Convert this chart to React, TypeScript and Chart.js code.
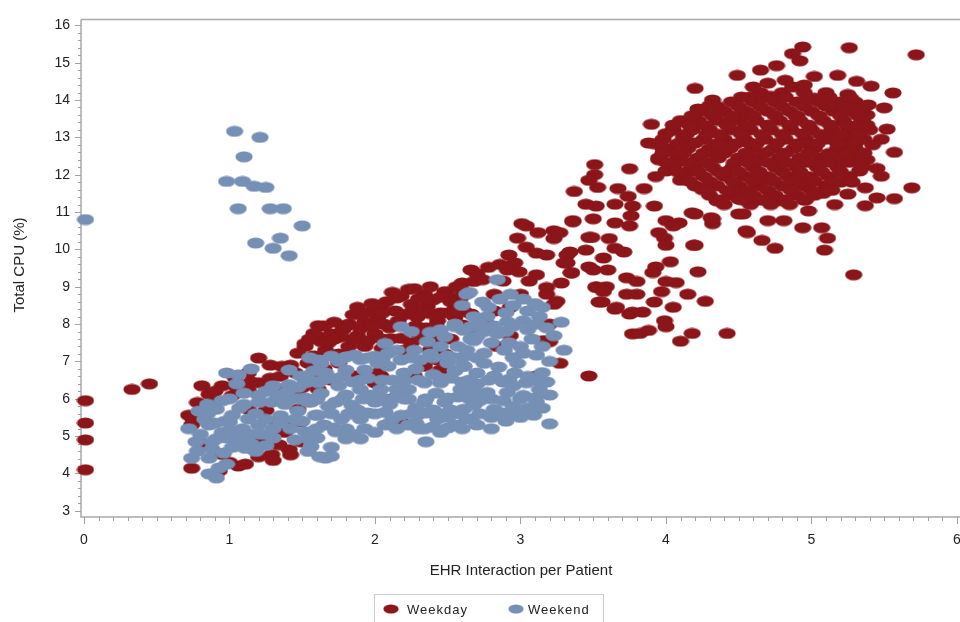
import React, { useEffect, useRef } from 'react';
import { Chart, registerables } from 'chart.js';

Chart.register(...registerables);

const xTicks = [0, 1, 2, 3, 4, 5, 6];
const yTicks = [3, 4, 5, 6, 7, 8, 9, 10, 11, 12, 13, 14, 15, 16];
const seriesNames = ['Weekday', 'Weekend'];
const xTitle = 'EHR Interaction per Patient';
const yTitle = 'Total CPU (%)';
const RED = '#8B1519';
const BLUE = '#768FB5';

const weekdayPoints: number[][] = [
  [0.01, 4.1], [0.01, 4.9], [0.01, 5.35], [0.01, 5.95], [0.33, 6.25], [0.45, 6.4],
  // low cluster
  [1.2, 7.09], [1.52, 7.4], [1.61, 7.66], [1.36, 6.87], [1.13, 6.69], [1.04, 6.56], [0.81, 6.35], [0.95, 6.35],
  [0.86, 6.12], [1.02, 6.09], [1.13, 6.22], [1.2, 6.43], [1.36, 6.25], [1.47, 6.09], [1.59, 5.99], [0.72, 5.56],
  [0.74, 5.3], [1.13, 5.72], [1.25, 5.69], [1.32, 5.38], [1.43, 5.38], [1.06, 5.12], [1.22, 4.93], [1.34, 4.77],
  [1.49, 4.85], [1.29, 4.51], [0.74, 4.14], [1.06, 4.2], [1.11, 4.25], [0.95, 4.51], [0.93, 4.07], [1.41, 4.64],
  [0.9, 5.9], [1.28, 6.55], [1.45, 6.7], [1.55, 6.95], [0.8, 4.8], [1.38, 5.1], [1.0, 4.3],
  [1.42, 6.9], [1.35, 6.6], [1.28, 6.9], [1.15, 6.45], [1.05, 6.3], [0.9, 6.2], [0.78, 5.9], [0.75, 5.45],
  [1.3, 4.35], [1.2, 4.45], [1.42, 4.5], [1.58, 6.5], [1.5, 6.3],
  // middle band
  [2.23, 8.93], [2.34, 8.8], [2.48, 8.87], [2.66, 9.45], [2.68, 9.14], [1.88, 8.45], [2.04, 8.48], [2.14, 8.35],
  [2.25, 8.53], [2.36, 8.48], [2.55, 8.4], [1.61, 7.96], [1.7, 7.74], [1.82, 8.0], [1.93, 8.06], [2.02, 8.19],
  [2.16, 8.09], [2.29, 8.19], [2.43, 8.09], [2.55, 8.19], [1.52, 7.48], [1.63, 7.53], [1.77, 7.66], [1.88, 7.69],
  [2.0, 7.74], [2.11, 7.61], [1.93, 7.4], [1.82, 7.4], [2.38, 7.3], [2.43, 7.04], [2.45, 6.77], [2.61, 8.35],
  [1.47, 7.22], [1.54, 6.96], [1.75, 6.96], [2.02, 6.69], [2.04, 6.61], [2.11, 5.99], [2.16, 6.09], [1.47, 5.72],
  [1.49, 5.38], [1.52, 4.85], [2.18, 5.38], [1.61, 6.25], [1.86, 6.61], [2.0, 6.43], [2.27, 6.61], [2.34, 6.87],
  [2.5, 8.75], [2.6, 9.1], [2.7, 9.35], [2.86, 9.6], [2.78, 9.52], [2.3, 7.7], [2.2, 7.3], [2.1, 7.9],
  [1.58, 7.75], [1.66, 7.3], [1.72, 8.05], [1.78, 7.85], [1.85, 8.25], [1.9, 7.88], [1.97, 8.32], [2.06, 8.0],
  [2.08, 8.6], [2.18, 8.75], [2.2, 8.25], [2.27, 8.95], [2.32, 8.38], [2.4, 8.65], [2.45, 8.3], [2.52, 8.6],
  [2.6, 8.75], [1.68, 7.5], [1.75, 7.2], [1.95, 7.55], [2.05, 7.35], [2.25, 7.5], [2.35, 7.9], [2.4, 7.6],
  [2.48, 7.2], [1.58, 7.15], [1.65, 6.8], [1.7, 6.5], [2.12, 8.85], [1.98, 8.55], [2.38, 9.0], [2.56, 9.0],
  [2.15, 8.7], [2.3, 8.68], [2.45, 8.72], [2.58, 8.62], [1.9, 8.3], [2.05, 8.3], [2.25, 8.32], [2.38, 8.28],
  [2.5, 8.3], [1.65, 7.95], [1.8, 7.95], [1.98, 7.95], [2.12, 7.95], [2.28, 7.95], [2.42, 7.95], [2.6, 7.98],
  [1.55, 7.6], [1.72, 7.6], [1.85, 7.58], [2.05, 7.6], [2.18, 7.62], [2.35, 7.58], [2.52, 7.6],
  // around x = 3
  [3.04, 10.63], [3.23, 10.5], [3.23, 10.29], [3.36, 10.77], [3.47, 10.32], [3.04, 10.06], [3.11, 9.9], [3.18, 9.85],
  [2.92, 9.85], [2.96, 9.64], [3.32, 9.85], [3.32, 9.64], [3.35, 9.37], [3.47, 9.53], [2.74, 9.19], [2.91, 9.45],
  [2.99, 9.4], [3.11, 9.32], [3.18, 8.98], [3.18, 8.8], [2.59, 8.93], [2.82, 8.8], [3.0, 8.8], [3.23, 8.53],
  [3.52, 8.98], [3.59, 9.0], [3.54, 8.59], [3.65, 8.4], [3.75, 8.27], [3.77, 7.74], [2.57, 8.35], [2.66, 8.27],
  [2.82, 8.35], [2.93, 8.45], [3.2, 8.0], [3.16, 7.56], [3.2, 7.53], [3.27, 6.95], [3.47, 6.61], [3.11, 6.61],
  [2.84, 7.4], [2.77, 8.0], [2.93, 7.69], [2.66, 7.88], [3.01, 10.69], [3.25, 8.61], [2.88, 9.15], [3.06, 9.15],
  [3.28, 9.1], [2.98, 10.3], [3.12, 10.45],
  // scattered x 3.3 - 4.5
  [3.88, 12.85], [3.51, 12.27], [3.51, 12.0], [3.75, 12.16], [3.37, 11.55], [3.45, 11.21], [3.52, 11.16], [3.67, 11.63],
  [3.74, 11.42], [3.85, 11.63], [3.65, 11.21], [3.77, 11.16], [3.76, 10.9], [3.92, 11.16], [3.36, 10.74], [3.5, 10.82],
  [3.65, 10.71], [3.75, 10.63], [3.27, 10.45], [4.0, 10.77], [4.05, 10.63], [4.2, 10.95], [4.31, 10.85], [4.32, 10.69],
  [4.5, 10.95], [4.56, 10.45], [3.95, 10.45], [3.99, 10.3], [4.0, 10.11], [3.49, 10.32], [3.61, 10.29], [3.65, 10.03],
  [3.71, 9.93], [3.34, 9.93], [3.45, 9.98], [3.57, 9.77], [3.3, 9.64], [4.19, 10.11], [4.03, 9.67], [3.93, 9.53],
  [3.5, 9.45], [3.35, 9.38], [3.6, 9.45], [3.73, 9.24], [3.8, 9.14], [3.91, 9.38], [4.0, 9.14], [4.07, 9.11],
  [4.22, 9.4], [3.52, 9.0], [3.57, 8.87], [3.73, 8.8], [3.8, 8.8], [3.97, 8.87], [4.15, 8.8], [4.27, 8.61],
  [3.56, 8.59], [3.66, 8.45], [3.77, 8.32], [3.84, 8.32], [3.92, 8.59], [4.05, 8.45], [3.99, 8.09], [4.0, 7.93],
  [3.82, 7.75], [3.88, 7.83], [4.1, 7.54], [4.18, 7.75], [4.42, 7.75], [3.9, 13.35], [3.95, 12.4], [4.0, 12.1],
  [3.93, 11.95], [3.47, 11.85], [3.53, 11.66],
  // upper cluster, outer points
  [4.94, 15.42], [5.26, 15.4], [4.87, 15.24], [4.92, 15.05], [4.49, 14.66], [4.65, 14.8], [4.76, 14.92], [4.2, 14.31],
  [4.32, 14.0], [4.22, 13.76], [4.39, 13.7], [4.82, 14.53], [5.02, 14.63], [5.18, 14.66], [5.31, 14.5], [5.41, 14.37],
  [5.56, 14.19], [5.39, 13.87], [5.5, 13.79], [5.52, 13.22], [5.57, 12.6], [5.48, 12.95], [5.38, 12.4], [5.45, 12.17],
  [5.48, 11.96], [5.37, 11.65], [5.45, 11.38], [5.57, 11.36], [5.37, 11.17], [5.69, 11.65], [5.72, 15.21], [4.18, 10.98],
  [4.32, 10.82], [4.53, 10.95], [4.55, 10.5], [4.66, 10.24], [4.75, 10.03], [4.7, 10.77], [4.81, 10.77], [4.94, 10.58],
  [5.07, 10.58], [5.11, 10.3], [5.09, 9.98], [5.16, 11.2], [4.98, 11.03], [5.25, 11.48], [4.2, 10.11], [4.09, 10.71],
  [5.29, 9.32],
  // upper cluster, dense core
  [4.65, 14.2], [4.8, 14.2], [4.95, 14.2], [5.1, 14.2],
  [4.45, 13.95], [4.6, 13.95], [4.75, 13.95], [4.9, 13.95], [5.05, 13.95], [5.2, 13.95], [5.3, 13.95],
  [4.25, 13.7], [4.4, 13.7], [4.55, 13.7], [4.7, 13.7], [4.85, 13.7], [5.0, 13.7], [5.15, 13.7], [5.28, 13.7],
  [4.1, 13.45], [4.22, 13.45], [4.35, 13.45], [4.5, 13.45], [4.62, 13.45], [4.78, 13.45], [4.92, 13.45], [5.08, 13.45], [5.22, 13.45], [5.35, 13.45],
  [4.05, 13.2], [4.18, 13.2], [4.3, 13.2], [4.45, 13.2], [4.58, 13.2], [4.72, 13.2], [4.86, 13.2], [5.0, 13.2], [5.14, 13.2], [5.26, 13.2], [5.4, 13.2],
  [3.98, 12.95], [4.12, 12.95], [4.26, 12.95], [4.4, 12.95], [4.54, 12.95], [4.68, 12.95], [4.82, 12.95], [4.96, 12.95], [5.1, 12.95], [5.24, 12.95], [5.36, 12.95],
  [4.02, 12.7], [4.15, 12.7], [4.3, 12.7], [4.44, 12.7], [4.6, 12.7], [4.74, 12.7], [4.88, 12.7], [5.02, 12.7], [5.18, 12.7], [5.3, 12.7],
  [3.95, 12.45], [4.08, 12.45], [4.22, 12.45], [4.36, 12.45], [4.5, 12.45], [4.64, 12.45], [4.78, 12.45], [4.92, 12.45], [5.06, 12.45], [5.2, 12.45], [5.32, 12.45],
  [4.05, 12.2], [4.18, 12.2], [4.32, 12.2], [4.46, 12.2], [4.6, 12.2], [4.75, 12.2], [4.9, 12.2], [5.04, 12.2], [5.18, 12.2],
  [4.12, 11.95], [4.26, 11.95], [4.4, 11.95], [4.55, 11.95], [4.7, 11.95], [4.84, 11.95], [4.98, 11.95], [5.12, 11.95], [5.26, 11.95],
  [4.2, 11.7], [4.35, 11.7], [4.5, 11.7], [4.64, 11.7], [4.8, 11.7], [4.95, 11.7], [5.1, 11.7],
  [4.3, 11.45], [4.45, 11.45], [4.6, 11.45], [4.75, 11.45], [4.9, 11.45], [5.02, 11.45],
  [4.4, 11.2], [4.58, 11.2], [4.72, 11.2], [4.85, 11.2],
  [4.12, 13.05], [4.27, 13.32], [4.38, 12.82], [4.52, 13.58], [4.66, 13.08], [4.8, 13.82], [4.94, 13.1], [5.05, 13.58],
  [5.17, 13.05], [5.3, 13.3], [4.08, 12.55], [4.2, 12.85], [4.34, 12.57], [4.47, 12.32], [4.57, 12.85], [4.69, 12.6],
  [4.83, 12.32], [4.97, 12.82], [5.12, 12.57], [5.25, 12.82], [4.15, 12.08], [4.3, 11.82], [4.43, 12.1], [4.52, 11.58],
  [4.67, 11.85], [4.8, 12.08], [4.93, 11.82], [5.07, 12.08], [5.2, 11.8], [5.33, 12.1], [4.35, 11.3], [4.5, 11.35],
  [4.65, 11.32], [4.8, 11.3], [4.95, 11.32], [5.08, 11.5], [4.3, 13.85], [4.45, 13.55], [4.58, 14.08], [4.72, 14.1],
  [4.87, 14.35], [5.02, 14.05], [5.15, 13.83], [5.25, 14.15], [4.95, 14.4], [4.7, 14.45], [4.0, 13.1], [4.06, 12.3],
  [3.98, 12.7], [4.1, 11.85], [4.25, 11.6], [4.6, 14.35], [5.38, 13.6], [5.42, 12.8], [5.35, 12.2], [5.28, 11.8],
  [4.24, 12.32], [4.37, 13.08], [4.62, 12.35], [4.76, 12.84], [4.89, 13.58], [5.13, 13.33], [4.55, 13.3], [4.98, 12.58],
  [4.52, 14.08], [4.67, 14.06], [4.82, 14.08], [4.97, 14.06], [5.12, 14.08], [5.27, 14.05],
  [4.35, 13.83], [4.5, 13.83], [4.65, 13.82], [4.95, 13.83], [5.1, 13.84], [5.22, 13.83], [5.36, 13.82],
  [4.18, 13.58], [4.32, 13.58], [4.46, 13.57], [4.6, 13.58], [4.75, 13.58], [4.9, 13.57], [5.2, 13.58], [5.32, 13.58],
  [4.05, 13.33], [4.16, 13.33], [4.42, 13.33], [4.56, 13.32], [4.7, 13.33], [4.85, 13.33], [4.98, 13.33], [5.24, 13.33], [5.38, 13.33],
  [4.14, 13.08], [4.28, 13.08], [4.52, 13.08], [4.8, 13.08], [5.06, 13.08], [5.2, 13.08], [5.32, 13.08],
  [3.92, 12.83], [4.08, 12.83], [4.35, 12.83], [4.48, 12.83], [4.62, 12.83], [4.9, 12.83], [5.04, 12.83], [5.18, 12.83], [5.3, 12.83],
  [3.98, 12.58], [4.12, 12.58], [4.26, 12.58], [4.4, 12.58], [4.55, 12.58], [4.82, 12.58], [5.24, 12.58], [5.36, 12.58],
  [4.0, 12.33], [4.15, 12.33], [4.28, 12.33], [4.56, 12.33], [4.7, 12.33], [4.97, 12.33], [5.12, 12.33], [5.26, 12.33],
  [4.08, 12.08], [4.22, 12.08], [4.36, 12.08], [4.5, 12.08], [4.64, 12.08], [4.92, 12.08], [5.2, 12.08],
  [4.16, 11.83], [4.46, 11.83], [4.6, 11.83], [4.74, 11.83], [4.88, 11.83], [5.02, 11.83], [5.16, 11.83],
  [4.28, 11.58], [4.42, 11.58], [4.56, 11.58], [4.7, 11.58], [4.86, 11.58], [5.0, 11.58], [5.14, 11.58],
  [4.38, 11.33], [4.52, 11.33], [4.68, 11.33], [4.82, 11.33], [4.96, 11.33],
];

const weekendPoints: number[][] = [
  [0.01, 10.8],
  // upper-left group
  [1.035, 13.16], [1.21, 13.0], [1.1, 12.48], [0.98, 11.82], [1.09, 11.82], [1.17, 11.69], [1.25, 11.66], [1.06, 11.09],
  [1.28, 11.09], [1.37, 11.09], [1.5, 10.63], [1.35, 10.3], [1.18, 10.17], [1.3, 10.03], [1.41, 9.83],
  // low cluster
  [0.98, 6.69], [1.06, 6.64], [1.41, 6.77], [1.41, 6.38], [1.52, 6.43], [1.63, 6.95], [1.2, 6.09], [1.29, 5.91],
  [1.41, 5.99], [1.54, 5.91], [0.79, 5.67], [0.91, 5.72], [1.02, 5.56], [1.13, 5.46], [1.47, 5.67], [1.59, 5.56],
  [0.72, 5.2], [0.86, 5.3], [1.0, 5.38], [1.09, 5.2], [1.2, 5.3], [1.52, 5.12], [0.77, 4.85], [0.91, 4.93],
  [1.04, 4.85], [1.11, 4.67], [1.18, 4.59], [1.56, 4.72], [1.66, 4.41], [0.74, 4.41], [0.86, 4.41], [0.98, 4.25],
  [0.91, 3.88], [0.86, 3.99], [1.49, 6.61],
  [1.47, 6.0], [1.5, 5.4], [1.42, 5.2], [1.35, 5.55], [1.3, 5.2], [1.25, 5.45], [1.15, 5.05], [1.05, 5.0],
  [0.95, 5.1], [0.83, 5.45], [0.8, 5.05], [0.88, 4.65], [0.96, 4.55], [1.02, 4.7], [1.1, 4.9], [1.25, 4.75],
  [1.3, 4.95], [1.45, 4.9], [0.93, 4.15], [1.05, 6.4], [1.15, 6.8], [1.25, 6.2], [1.33, 6.1], [1.38, 5.85],
  [1.1, 5.85], [0.95, 5.95], [0.85, 5.85], [1.6, 4.95], [1.7, 4.7], [1.62, 4.45],
  [0.85, 5.6], [0.97, 5.4], [1.07, 5.75], [1.18, 5.6], [1.22, 5.05], [1.35, 5.35], [1.45, 5.45], [1.0, 5.15],
  [0.9, 5.35], [1.2, 5.9], [1.3, 6.35], [1.4, 6.2], [1.1, 6.15], [1.0, 6.0], [0.88, 4.85], [0.78, 4.6],
  [1.15, 4.8], [0.98, 4.95],
  // middle band
  [2.63, 8.8], [2.18, 7.93], [2.07, 7.48], [1.61, 7.04], [1.7, 7.14], [1.86, 7.17], [2.0, 7.14], [2.09, 7.22],
  [2.18, 7.04], [2.27, 7.3], [2.36, 7.53], [2.48, 7.66], [2.55, 7.93], [2.66, 7.93], [2.68, 7.56], [2.57, 7.4],
  [1.52, 6.61], [1.66, 6.69], [1.8, 6.77], [1.93, 6.77], [2.09, 6.87], [2.2, 6.69], [2.31, 7.04], [2.5, 6.96],
  [2.61, 6.87], [1.47, 6.3], [1.61, 6.43], [1.75, 6.35], [1.9, 6.25], [2.04, 6.25], [2.23, 6.25], [2.34, 6.43],
  [2.45, 6.43], [2.59, 6.25], [2.68, 6.17], [1.56, 5.91], [1.73, 5.91], [1.84, 5.83], [2.0, 5.91], [2.23, 5.99],
  [2.34, 5.91], [2.48, 5.91], [2.61, 5.72], [1.61, 5.56], [1.77, 5.46], [1.9, 5.46], [2.07, 5.64], [2.18, 5.56],
  [2.29, 5.56], [2.43, 5.46], [2.55, 5.3], [2.66, 5.46], [1.73, 5.12], [1.93, 5.2], [2.07, 5.3], [2.23, 5.3],
  [2.34, 5.2], [1.54, 4.93], [1.8, 4.93], [1.9, 4.93], [2.35, 4.85], [1.7, 4.46], [1.54, 4.59],
  [1.58, 6.75], [1.7, 6.55], [1.78, 6.6], [1.85, 6.45], [1.95, 6.55], [2.02, 6.95], [2.12, 6.5], [2.15, 6.25],
  [2.28, 6.8], [2.4, 6.65], [2.42, 6.15], [2.52, 6.55], [2.55, 6.75], [2.6, 6.45], [2.7, 6.4], [2.75, 6.95],
  [1.63, 6.15], [1.68, 5.8], [1.8, 6.1], [1.88, 5.7], [1.97, 6.1], [2.1, 5.85], [2.15, 6.05], [2.28, 5.75],
  [2.4, 5.7], [2.52, 5.7], [2.57, 6.05], [1.65, 5.3], [1.8, 5.2], [1.85, 5.05], [2.0, 5.1], [2.12, 5.45],
  [2.28, 5.35], [2.4, 5.25], [2.5, 5.5], [2.45, 5.1], [1.75, 7.0], [1.9, 7.05], [2.05, 7.05], [2.15, 7.3],
  [2.25, 7.1], [2.38, 7.2], [2.45, 7.4], [2.5, 7.15], [2.6, 7.1], [2.66, 7.6], [2.45, 7.85], [2.55, 8.0],
  [2.25, 7.8], [2.38, 7.78], [2.75, 7.8], [2.9, 7.8], [1.55, 7.1], [1.8, 7.12], [1.95, 7.1], [2.4, 7.1],
  [2.55, 7.1], [2.7, 7.1], [2.95, 7.1], [1.55, 6.5], [1.65, 6.52], [1.9, 6.5], [2.05, 6.5], [2.2, 6.48],
  [2.3, 6.5], [2.45, 6.55], [2.65, 6.5], [2.78, 6.5], [2.92, 6.52], [3.1, 6.5], [1.52, 6.02], [1.6, 6.0],
  [1.78, 6.0], [1.92, 6.0], [2.05, 6.02], [2.2, 6.0], [2.35, 6.0], [2.5, 6.02], [2.65, 6.0], [2.8, 6.0],
  [3.0, 6.0], [3.1, 6.02], [1.7, 5.6], [1.82, 5.6], [1.95, 5.62], [2.0, 5.6], [2.25, 5.6], [2.35, 5.62],
  [2.47, 5.6], [2.58, 5.6], [2.72, 5.6], [2.88, 5.62], [3.02, 5.6], [1.6, 5.2], [1.72, 5.22], [2.15, 5.2],
  [2.3, 5.2], [2.5, 5.22], [2.6, 5.2], [2.8, 5.2],
  // around x = 3
  [2.84, 9.19], [2.65, 8.85], [2.74, 8.59], [2.86, 8.67], [2.93, 8.8], [3.02, 8.67], [2.77, 8.2], [2.91, 8.06],
  [3.02, 8.09], [3.13, 8.2], [3.11, 8.0], [3.23, 7.69], [3.3, 7.3], [2.61, 7.83], [2.7, 7.67], [2.84, 7.74],
  [2.63, 7.3], [2.75, 7.22], [2.89, 7.3], [3.02, 7.22], [3.11, 7.17], [2.98, 6.95], [2.61, 6.87], [2.7, 6.69],
  [2.82, 6.61], [2.96, 6.69], [3.04, 6.43], [3.13, 6.25], [2.63, 6.25], [2.77, 6.17], [2.91, 6.17], [3.02, 6.09],
  [3.11, 5.91], [2.68, 5.83], [2.82, 5.72], [2.96, 5.56], [3.09, 5.56], [3.2, 5.33], [2.63, 5.46], [3.28, 8.05],
  [2.85, 6.85], [2.88, 6.45], [2.95, 6.35], [3.05, 6.6], [3.15, 6.7], [3.18, 6.45], [2.72, 5.95], [2.8, 5.5],
  [2.88, 5.95], [2.95, 5.8], [3.05, 5.75], [3.15, 5.75], [3.2, 6.1], [2.7, 5.3], [2.9, 5.4], [3.0, 5.5],
  [2.8, 7.5], [2.92, 7.5], [3.0, 7.4], [3.08, 7.6], [3.15, 7.4], [3.2, 7.0], [2.72, 8.0], [2.82, 7.95],
  [2.95, 7.95], [3.05, 7.85], [3.18, 7.9], [2.9, 8.3], [3.05, 8.35], [3.15, 8.45], [2.78, 8.45], [2.68, 8.2],
  [2.6, 8.5], [2.95, 8.5], [3.1, 8.55],
];

function makeMarker(color: string): HTMLCanvasElement {
  const c = document.createElement('canvas');
  c.width = 18;
  c.height = 12;
  const g = c.getContext('2d')!;
  g.fillStyle = color;
  g.beginPath();
  g.ellipse(9, 6, 8.6, 5.6, 0, 0, Math.PI * 2);
  g.fill();
  return c;
}

const FONT = '"Liberation Sans", Arial, sans-serif';

export default function App() {
  const ref = useRef<HTMLCanvasElement>(null);

  useEffect(() => {
    document.body.style.overflow = 'hidden';
    const redImg = makeMarker(RED);
    const blueImg = makeMarker(BLUE);

    const decor = {
      id: 'decor',
      beforeDatasetsDraw(chart: any) {
        const { ctx, chartArea: a, scales } = chart;
        const x = scales.x;
        const y = scales.y;
        ctx.save();
        ctx.strokeStyle = '#a9a9a9';
        ctx.lineWidth = 1.5;
        ctx.beginPath();
        ctx.moveTo(a.left, a.top);
        ctx.lineTo(a.right, a.top);
        ctx.moveTo(a.left, a.top);
        ctx.lineTo(a.left, a.bottom);
        ctx.lineTo(a.right, a.bottom);
        ctx.stroke();
        ctx.lineWidth = 1;
        ctx.strokeStyle = '#a0a0a0';
        ctx.beginPath();
        for (let i = 0; i <= 65; i++) {
          const px = Math.round(x.getPixelForValue(i / 10)) + 0.5;
          if (px < a.left || px > a.right) continue;
          const len = i % 10 === 0 ? 7 : 4;
          ctx.moveTo(px, a.bottom);
          ctx.lineTo(px, a.bottom + len);
        }
        for (let i = 15; i <= 80; i++) {
          const v = i / 5;
          const py = Math.round(y.getPixelForValue(v)) + 0.5;
          if (py < a.top || py > a.bottom) continue;
          const len = i % 5 === 0 ? 6 : 3;
          ctx.moveTo(a.left, py);
          ctx.lineTo(a.left - len, py);
        }
        ctx.stroke();
        ctx.restore();
      },
      afterDraw(chart: any) {
        const { ctx } = chart;
        ctx.save();
        ctx.fillStyle = '#222';
        ctx.font = `15px ${FONT}`;
        ctx.textAlign = 'center';
        ctx.textBaseline = 'middle';
        ctx.fillText(xTitle, 521, 571);
        ctx.save();
        ctx.translate(20, 265);
        ctx.rotate(-Math.PI / 2);
        ctx.font = `15px ${FONT}`;
        ctx.fillText(yTitle, 0, 0);
        ctx.restore();
        // legend
        ctx.strokeStyle = '#cccccc';
        ctx.lineWidth = 1;
        ctx.strokeRect(374.5, 594.5, 229, 40);
        ctx.drawImage(redImg, 391 - 8, 609 - 5, 16, 10);
        ctx.drawImage(blueImg, 516 - 8, 609 - 5, 16, 10);
        ctx.font = `13px ${FONT}`;
        try { (ctx as any).letterSpacing = '1px'; } catch (e) { /* ignore */ }
        ctx.textAlign = 'left';
        ctx.fillStyle = '#222';
        ctx.fillText(seriesNames[0], 407, 610);
        ctx.fillText(seriesNames[1], 528, 610);
        ctx.restore();
      },
    };

    const chart = new Chart(ref.current!, {
      type: 'scatter',
      data: {
        datasets: [
          {
            label: seriesNames[0],
            data: weekdayPoints.map(([x, y]) => ({ x, y })),
            pointStyle: redImg as any,
            backgroundColor: RED,
            borderColor: RED,
            order: 1,
            clip: false as any,
          },
          {
            label: seriesNames[1],
            data: weekendPoints.map(([x, y]) => ({ x, y })),
            pointStyle: blueImg as any,
            backgroundColor: BLUE,
            borderColor: BLUE,
            order: 0,
            clip: false as any,
          },
        ],
      },
      options: {
        responsive: false,
        animation: false,
        events: [],
        layout: { padding: { top: 10, left: 0, right: 0, bottom: 0 } },
        plugins: { legend: { display: false }, tooltip: { enabled: false } },
        scales: {
          x: {
            type: 'linear',
            min: -0.0205,
            max: 6.124,
            afterBuildTicks: (s: any) => { s.ticks = xTicks.map((v) => ({ value: v })); },
            afterFit: (s: any) => { s.height = 105; },
            grid: { display: false, drawTicks: false },
            border: { display: false },
            ticks: { padding: 15, color: '#222', font: { family: FONT, size: 14 }, maxRotation: 0, autoSkip: false },
          },
          y: {
            type: 'linear',
            min: 2.834,
            max: 16.158,
            afterBuildTicks: (s: any) => { s.ticks = yTicks.map((v) => ({ value: v })); },
            afterFit: (s: any) => { s.width = 81; },
            grid: { display: false, drawTicks: false },
            border: { display: false },
            ticks: { padding: 11, color: '#222', font: { family: FONT, size: 14 }, autoSkip: false },
          },
        },
      },
      plugins: [decor],
    });
    return () => chart.destroy();
  }, []);

  return (
    <canvas
      ref={ref}
      width={980}
      height={622}
      style={{ position: 'absolute', left: 0, top: 0, width: 980, height: 622 }}
    />
  );
}
